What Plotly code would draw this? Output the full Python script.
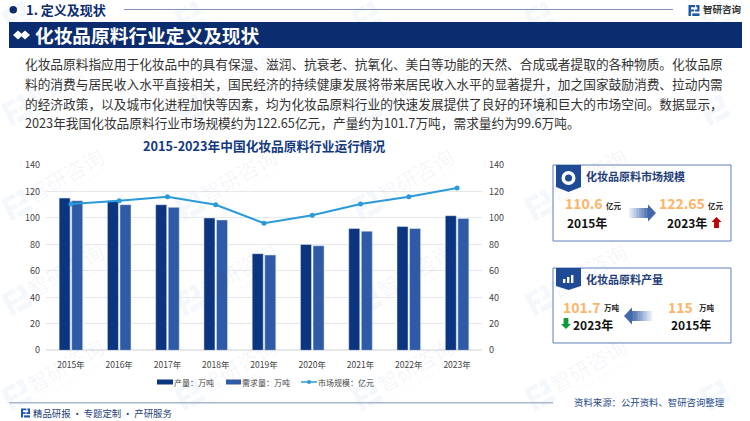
"""化妆品原料行业定义及现状 - plotly 版."""
import math
import plotly.graph_objects as go

W, H = 750, 421
FONT = 'Noto Sans CJK SC, Noto Sans, sans-serif'
NAVY = '#0B2C6E'

YEARS = ['2015年', '2016年', '2017年', '2018年', '2019年', '2020年', '2021年', '2022年', '2023年']
OUTPUT = [115, 113, 110, 100, 73, 80, 92, 93.5, 101.7]
DEMAND = [113, 110, 108, 98.5, 72, 79, 90, 92, 99.6]
MARKET = [110.6, 113, 116, 110, 96, 102, 110.5, 116, 122.65]
TICKS = [0, 20, 40, 60, 80, 100, 120, 140]

PARAGRAPH = [
    '化妆品原料指应用于化妆品中的具有保湿、滋润、抗衰老、抗氧化、美白等功能的天然、合成或者提取的各种物质。化妆品原',
    '料的消费与居民收入水平直接相关，国民经济的持续健康发展将带来居民收入水平的显著提升，加之国家鼓励消费、拉动内需',
    '的经济政策，以及城市化进程加快等因素，均为化妆品原料行业的快速发展提供了良好的环境和巨大的市场空间。数据显示，',
    '2023年我国化妆品原料行业市场规模约为122.65亿元，产量约为101.7万吨，需求量约为99.6万吨。',
]

WM_COLS = [17, 190, 367, 540, 715]
WM_ROWS = [17, 110, 205, 300, 395]

fig = go.Figure()
fig.add_trace(go.Bar(x=YEARS, y=OUTPUT, name='产量：万吨', marker_color='#0C3580'))
fig.add_trace(go.Bar(x=YEARS, y=DEMAND, name='需求量：万吨', marker_color='#2F5AA5'))
fig.add_trace(go.Scatter(x=YEARS, y=MARKET, name='市场规模：亿元', yaxis='y2', mode='lines+markers',
                         line=dict(color='#2A9AD8', width=2), marker=dict(size=5, color='#2A9AD8')))


def X(px):
    return px / W


def Y(py):
    return 1 - py / H


def text(px, py, s, size, color='#333333', bold=False, anchor='left', angle=0):
    fig.add_annotation(x=X(px), y=Y(py), xref='paper', yref='paper', text=f'<b>{s}</b>' if bold else s,
                       showarrow=False, xanchor=anchor, yanchor='middle', textangle=angle,
                       borderpad=0, borderwidth=0,
                       font=dict(family=FONT, size=size, color=color))


def rect(x0, y0, x1, y1, fill=None, line=None, width=1, layer='below'):
    fig.add_shape(type='rect', xref='paper', yref='paper', x0=X(x0), y0=Y(y0), x1=X(x1), y1=Y(y1),
                  fillcolor=fill or 'rgba(0,0,0,0)', line=dict(color=line or 'rgba(0,0,0,0)', width=width if line else 0),
                  layer=layer)


def poly(points, fill, layer='above'):
    path = 'M' + ' L'.join(f'{X(a):.5f},{Y(b):.5f}' for a, b in points) + ' Z'
    fig.add_shape(type='path', xref='paper', yref='paper', path=path, fillcolor=fill, line=dict(width=0), layer=layer)


def hline(x0, x1, y, color, width=1, layer='below'):
    fig.add_shape(type='line', xref='paper', yref='paper', x0=X(x0), x1=X(x1), y0=Y(y), y1=Y(y),
                  line=dict(color=color, width=width), layer=layer)


def logo(cx, cy, size, color, angle=0, layer='above'):
    # 两块拼成的公司标志
    a = math.radians(angle)

    def rot(pts):
        return [(cx + (u * math.cos(a) - v * math.sin(a)) * size, cy + (u * math.sin(a) + v * math.cos(a)) * size)
                for u, v in pts]
    poly(rot([(-.5, -.5), (.1, -.5), (.1, -.3), (-.28, -.3), (-.28, -.08), (.02, -.08), (.02, .1), (-.28, .1), (-.28, .5), (-.5, .5)]), color, layer)
    poly(rot([(.2, -.5), (.5, -.5), (.5, .1), (.1, .1), (.1, -.08), (.3, -.08), (.3, -.3), (.2, -.3)]), color, layer)
    poly(rot([(-.16, .26), (.5, .26), (.5, .5), (-.16, .5)]), color, layer)


def grad_arrow(x_tail, x_head, cy, half, start, end):
    # 渐变箭头：箭身分段，由浅到深
    n = 12
    neck = x_head - (8 if x_head > x_tail else -8)
    for i in range(n):
        t0, t1 = i / n, (i + 1) / n
        t = (t0 + t1) / 2
        rgb = [round(start[k] + (end[k] - start[k]) * t) for k in range(3)]
        rect(x_tail + (neck - x_tail) * t0, cy - half, x_tail + (neck - x_tail) * t1 + (.3 if x_head > x_tail else -.3), cy + half,
             fill=f'rgb({rgb[0]},{rgb[1]},{rgb[2]})', layer='above')
    poly([(neck, cy - half - 3.5), (x_head, cy), (neck, cy + half + 3.5)], f'rgb({end[0]},{end[1]},{end[2]})')


def vert_arrow(cx, top, bottom, color, up=True):
    tip, base = (top, top + 5) if up else (bottom, bottom - 5)
    far = bottom if up else top
    poly([(cx, tip), (cx + 5, base), (cx + 2.4, base), (cx + 2.4, far), (cx - 2.4, far), (cx - 2.4, base), (cx - 5, base)], color)


# 水印
for wx in WM_COLS:
    for wy in WM_ROWS:
        logo(wx, wy, 24, 'rgba(60,120,190,0.06)', angle=-28, layer='below')
        if wy > 40 and wx < 650:
            text(wx + 48, wy - 30, '智研咨询', 21, 'rgba(60,90,140,0.06)', anchor='center', angle=-30)
            text(wx + 54, wy - 15, 'INTELLIGENCE RESEARCH GROUP', 5, 'rgba(60,90,140,0.07)', anchor='center', angle=-30)

# 页眉
fig.add_shape(type='circle', xref='paper', yref='paper', x0=X(9.5), x1=X(17), y0=Y(6), y1=Y(13.5),
              fillcolor=NAVY, line=dict(width=0))
text(26, 10, '1. 定义及现状', 13, NAVY, bold=True)
hline(124, 673, 9.5, '#7F93BC')
logo(694, 10.5, 11, '#1D56A8')
text(703, 9.5, '智研咨询', 9.5, '#333333', bold=True)
rect(9, 22, 742, 48, fill=NAVY, layer='above')
poly([(13, 35), (18, 30.5), (23, 35), (18, 39.5)], 'white')
poly([(20, 35), (25, 30.5), (30, 35), (25, 39.5)], 'white')
text(35, 34.5, '化妆品原料行业定义及现状', 18.7, 'white', bold=True)

# 正文
for line, py in zip(PARAGRAPH, [63, 83, 103, 122]):
    text(25, py, line, 12.7, '#333333')

# 图表标题
text(264, 145, '2015-2023年中国化妆品原料行业运行情况', 12.7, '#12387F', bold=True, anchor='center')

# 图例
rect(157, 379.5, 173, 384.5, fill='#0C3580', layer='above')
text(174, 382, '产量：万吨', 8, '#444444')
rect(226, 379.5, 241, 384.5, fill='#2F5AA5', layer='above')
text(242, 382, '需求量：万吨', 8, '#444444')
hline(301, 317, 382, '#2A9AD8', 1.5, layer='above')
fig.add_shape(type='circle', xref='paper', yref='paper', x0=X(307), x1=X(311), y0=Y(380), y1=Y(384),
              fillcolor='#2A9AD8', line=dict(width=0))
text(318, 382, '市场规模：亿元', 8, '#444444')

# 卡片一：市场规模
rect(553, 165, 731, 241, fill='white', line='#5F80BE')
poly([(556, 165), (581, 165), (581, 187), (568.5, 192), (556, 187)], '#1F4A96')
fig.add_shape(type='circle', xref='paper', yref='paper', x0=X(561.5), x1=X(575.5), y0=Y(171), y1=Y(185),
              fillcolor='white', line=dict(width=0))
fig.add_shape(type='circle', xref='paper', yref='paper', x0=X(565), x1=X(572), y0=Y(174.5), y1=Y(181.5),
              fillcolor='#1F4A96', line=dict(width=0))
text(586, 176, '化妆品原料市场规模', 11, '#1F3E7A', bold=True)
text(565, 203, '110.6', 14, '#FDB468', bold=True)
text(606, 205, '亿元', 7.5, '#222222', bold=True)
text(567, 222, '2015年', 12, '#111111', bold=True)
grad_arrow(629, 656, 213, 5, (240, 244, 250), (66, 104, 172))
text(659, 203, '122.65', 14, '#FDB468', bold=True)
text(708, 205, '亿元', 7.5, '#222222', bold=True)
text(667, 222, '2023年', 12, '#111111', bold=True)
vert_arrow(716.5, 217, 228, '#C00000', up=True)

# 卡片二：产量
rect(553, 268, 731, 343, fill='white', line='#5F80BE')
poly([(556, 268), (581, 268), (581, 286), (568.5, 290), (556, 286)], '#1F4A96')
for bx, bh in zip([563, 567, 571], [4, 6, 8]):
    rect(bx, 283 - bh, bx + 2.4, 283, fill='white', layer='above')
text(586, 279, '化妆品原料产量', 11, '#1F3E7A', bold=True)
text(563, 307, '101.7', 14, '#FDB468', bold=True)
text(604, 307, '万吨', 7.5, '#222222', bold=True)
vert_arrow(566, 318, 329, '#109A3E', up=False)
text(573, 324, '2023年', 12, '#111111', bold=True)
grad_arrow(652, 624, 316, 5, (240, 244, 250), (66, 104, 172))
text(668, 307, '115', 14, '#FDB468', bold=True)
text(699, 307, '万吨', 7.5, '#222222', bold=True)
text(671, 324, '2015年', 12, '#111111', bold=True)

# 页脚
hline(9, 553, 402.7, '#A9B6D2', 1.5)
logo(25.5, 413, 9, '#1D56A8')
text(33, 413, '精品研报\u2009·\u2009专题定制\u2009·\u2009产研服务', 9.4, '#1F3E7A')
text(574, 402, '资料来源：公开资料、智研咨询整理', 9.4, '#1F4A8A')

axis_font = dict(family=FONT, size=9, color='#444444')
fig.update_layout(
    width=W, height=H,
    margin=dict(l=0, r=0, t=0, b=0, pad=0, autoexpand=False),
    paper_bgcolor='white', plot_bgcolor='rgba(0,0,0,0)',
    barmode='group', bargap=0.48, bargroupgap=0.12,
    showlegend=False,
    font=dict(family=FONT),
    xaxis=dict(domain=[X(46), X(482)], type='category', tickfont=dict(family=FONT, size=8.5, color='#444444'),
               ticks='', showgrid=False, showline=False, ticklabelstandoff=8, automargin=False),
    yaxis=dict(domain=[Y(350.3), Y(165)], range=[0, 140], tickvals=TICKS, tickfont=axis_font,
               gridcolor='#E6E8EC', gridwidth=1, zerolinecolor='#E6E8EC', showline=False, ticks='',
               ticklabelstandoff=5, automargin=False),
    yaxis2=dict(overlaying='y', side='right', anchor='x', range=[0, 140], tickvals=TICKS, tickfont=axis_font,
                showgrid=False, zeroline=False, showline=False, ticks='', ticklabelstandoff=6, automargin=False),
)

fig.write_html("out.html", config={'displayModeBar': False}, post_script="document.body.style.margin='0';")
